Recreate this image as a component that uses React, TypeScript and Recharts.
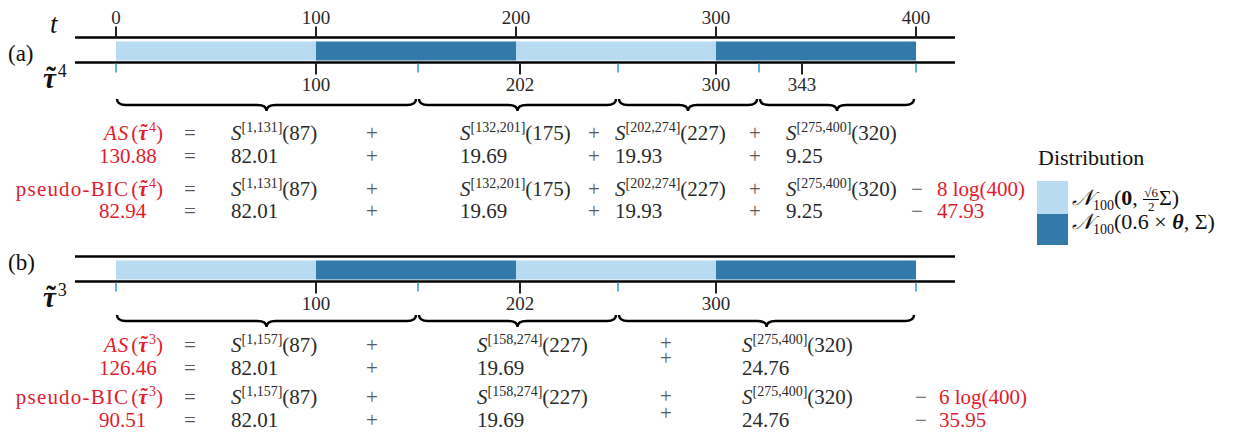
import React from "react";
import { Bar, BarChart, ReferenceArea, XAxis, YAxis } from "recharts";

// true segments of the simulated series (length of each piece and its distribution)
const truthLengths = [100, 100, 100, 100];
const truthDist = [0, 1, 0, 1];
const topTicks = [0, 100, 200, 300, 400];

// panel (a): 4 estimated change points
const cpsA = [100, 202, 300, 343];
const rangesA = [[1, 131], [132, 201], [202, 274], [275, 400]];
const centresA = [87, 175, 227, 320];
const costsA = ["82.01", "19.69", "19.93", "9.25"];
const asA = "130.88";
const bicA = "82.94";
const penA = 8;
const penValA = "47.93";

// panel (b): 3 estimated change points
const cpsB = [100, 202, 300];
const rangesB = [[1, 157], [158, 274], [275, 400]];
const centresB = [87, 227, 320];
const costsB = ["82.01", "19.69", "24.76"];
const asB = "126.46";
const bicB = "90.51";
const penB = 6;
const penValB = "35.95";

const DIST_COLORS = ["#b8dbf2", "#3379aa"];
const RED = "#e41b2c";
const INK = "#2a2a2a";
const OP = "#5a5a5a";
const TICK_BLUE = "#3aa0dc";
const FONT = "'Liberation Serif', serif";
const DOMAIN: [number, number] = [-20.5, 419.5];

const truthRow = [
  truthLengths.reduce<Record<string, any>>(
    (acc, v, i) => ({ ...acc, ["s" + i]: v }),
    { name: "t" }
  ),
];

function midpoints(cps: number[]) {
  const out = [0];
  for (let i = 0; i < cps.length - 1; i++) out.push((cps[i] + cps[i + 1]) / 2);
  out.push(400);
  return out;
}

function Brace(props: any) {
  const { x, y, width, height, drop } = props;
  const x1 = x + 1;
  const x2 = x + width - 2;
  const m = (x1 + x2) / 2;
  const y0 = y + height + drop;
  const h = 12;
  const q = 9;
  const d = `M${x1},${y0} Q${x1},${y0 + h / 2} ${x1 + q},${y0 + h / 2} L${m - q},${y0 + h / 2} Q${m},${y0 + h / 2} ${m},${y0 + h} Q${m},${y0 + h / 2} ${m + q},${y0 + h / 2} L${x2 - q},${y0 + h / 2} Q${x2},${y0 + h / 2} ${x2},${y0}`;
  return <path d={d} fill="none" stroke="#000" strokeWidth={2.4} />;
}

function Panel({ top, cps, showTop, drop }: { top: number; cps: number[]; showTop: boolean; drop: number }) {
  const mids = midpoints(cps);
  const ticks = [...mids, ...cps].sort((a, b) => a - b);
  const CpTick = (p: any) => {
    const v = p.payload.value;
    if (cps.includes(v)) {
      return (
        <g>
          <line x1={p.x} x2={p.x} y1={p.y} y2={p.y + 12} stroke="#222" strokeWidth={2} />
          <text x={p.x} y={p.y + 28} textAnchor="middle" fontSize={19} fill={INK} fontFamily={FONT}>
            {v}
          </text>
        </g>
      );
    }
    return <line x1={p.x} x2={p.x} y1={p.y + 1} y2={p.y + 10} stroke={TICK_BLUE} strokeWidth={1.6} />;
  };
  return (
    <div style={{ position: "absolute", left: 0, top }}>
      <BarChart
        width={1247}
        height={120}
        layout="vertical"
        data={truthRow}
        margin={{ top: 0, right: 292, left: 75, bottom: 0 }}
        barCategoryGap={0}
      >
        <XAxis
          xAxisId="top"
          orientation="top"
          type="number"
          domain={DOMAIN}
          ticks={showTop ? topTicks : []}
          interval={0}
          height={37.5}
          tickSize={11}
          tickMargin={3}
          tick={showTop ? { fontSize: 19, fill: INK, fontFamily: FONT } : false}
          tickLine={showTop ? { stroke: "#222", strokeWidth: 2 } : false}
          axisLine={{ stroke: "#000", strokeWidth: 2.4 }}
          allowDataOverflow
        />
        <XAxis
          xAxisId="bottom"
          orientation="bottom"
          type="number"
          domain={DOMAIN}
          ticks={ticks}
          interval={0}
          height={57.5}
          tickSize={0}
          tickMargin={0}
          tickLine={false}
          tick={<CpTick />}
          axisLine={{ stroke: "#000", strokeWidth: 2.4 }}
          allowDataOverflow
        />
        <YAxis type="category" dataKey="name" hide padding={{ top: 4, bottom: 1.5 }} />
        {truthLengths.map((_, i) => (
          <Bar
            key={i}
            xAxisId="top"
            dataKey={"s" + i}
            stackId="truth"
            barSize={19}
            fill={DIST_COLORS[truthDist[i]]}
            isAnimationActive={false}
          />
        ))}
        {mids.slice(0, -1).map((m, i) => (
          <ReferenceArea
            key={"b" + i}
            xAxisId="bottom"
            x1={m}
            x2={mids[i + 1]}
            ifOverflow="visible"
            shape={(p: any) => <Brace {...p} drop={drop} />}
          />
        ))}
      </BarChart>
    </div>
  );
}

// bold italic tau with a tilde placed over it, a superscript, then optional trailing text
function TauTilde({ f, k, sup, after }: { f: number; k: number; sup: number; after?: string }) {
  const rise = Math.round(f * 0.38);
  return (
    <>
      <tspan fontStyle="italic" fontWeight="bold">{"\u03c4"}</tspan>
      <tspan fontWeight="bold" dx={-0.33 * f} dy={-0.04 * f}>{"\u02dc"}</tspan>
      <tspan fontSize={sup} dx={0.06 * f} dy={-rise + 0.04 * f}>{k}</tspan>
      {after ? <tspan dy={rise}>{after}</tspan> : null}
    </>
  );
}

function STerm({ x, y, range, c }: { x: number; y: number; range: number[]; c: number }) {
  return (
    <text x={x} y={y} fill={INK} fontSize={21}>
      <tspan fontStyle="italic">S</tspan>
      <tspan dy={-8} fontSize={14}>[{range[0]},{range[1]}]</tspan>
      <tspan dy={8}>({c})</tspan>
    </text>
  );
}

function Op({ x, y, s }: { x: number; y: number; s: string }) {
  return (
    <text x={x} y={y} textAnchor="middle" fill={OP} fontSize={21}>
      {s}
    </text>
  );
}

type Layout = {
  k: number;
  ys: number[];
  sx: number[];
  px: number[];
  pRaise: number[][];
  mx: number;
  penX: number;
};

function Block({ L, ranges, centres, costs, as, bic, pen, penVal }: any) {
  const { k, ys, sx, px, pRaise, mx, penX } = L as Layout;
  return (
    <g fontFamily={FONT}>
      <text x={163} y={ys[0]} textAnchor="end" fill={RED} fontSize={21}>
        <tspan fontStyle="italic" letterSpacing={1}>AS</tspan>
        <tspan dx={2}>(</tspan>
        <TauTilde f={21} k={k} sup={14} after=")" />
      </text>
      <text x={99} y={ys[1]} fill={RED} fontSize={21}>{as}</text>
      <text x={163} y={ys[2]} textAnchor="end" fill={RED} fontSize={21}>
        <tspan letterSpacing={1.2}>pseudo-BIC</tspan>
        <tspan dx={2}>(</tspan>
        <TauTilde f={21} k={k} sup={14} after=")" />
      </text>
      <text x={99} y={ys[3]} fill={RED} fontSize={21}>{bic}</text>
      {ys.map((y, r) => (
        <g key={r}>
          <Op x={190} y={y} s="=" />
          {sx.map((x, i) =>
            r % 2 === 0 ? (
              <STerm key={i} x={x} y={y} range={ranges[i]} c={centres[i]} />
            ) : (
              <text key={i} x={x} y={y} fill={INK} fontSize={21}>{costs[i]}</text>
            )
          )}
          {px.map((x, i) => (
            <Op key={"p" + i} x={x} y={y - (pRaise[i] ? pRaise[i][r] : 0)} s="+" />
          ))}
        </g>
      ))}
      <Op x={mx} y={ys[2]} s={"\u2212"} />
      <text x={penX} y={ys[2]} fill={RED} fontSize={21}>{pen} log(400)</text>
      <Op x={mx} y={ys[3]} s={"\u2212"} />
      <text x={penX} y={ys[3]} fill={RED} fontSize={21}>{penVal}</text>
    </g>
  );
}

const layoutA: Layout = {
  k: 4,
  ys: [140, 163, 196, 218],
  sx: [231, 460, 615, 786],
  px: [372, 594, 755],
  pRaise: [],
  mx: 917,
  penX: 937,
};

const layoutB: Layout = {
  k: 3,
  ys: [352, 375, 404, 427],
  sx: [231, 477, 742],
  px: [372, 666],
  pRaise: [[0, 0, 0, 0], [2, 10, 1, 7]],
  mx: 921,
  penX: 939,
};

function Legend() {
  const labels = [
    <>
      <span style={{ fontStyle: "italic" }}>{"\ud835\udca9"}</span>
      <sub style={{ fontSize: 14 }}>100</sub>(<b>0</b>,{" "}
      <span style={{ display: "inline-flex", flexDirection: "column", alignItems: "center", fontSize: 13, lineHeight: "13px", verticalAlign: "middle" }}>
        <span style={{ borderBottom: "1px solid #000", padding: "0 1px" }}>{"\u221a6"}</span>
        <span>2</span>
      </span>
      {"\u03a3)"}
    </>,
    <>
      <span style={{ fontStyle: "italic" }}>{"\ud835\udca9"}</span>
      <sub style={{ fontSize: 14 }}>100</sub>(0.6 {"\u00d7"} <b><i>{"\u03b8"}</i></b>, {"\u03a3)"}
    </>,
  ];
  return (
    <div style={{ position: "absolute", left: 1037, top: 145, fontFamily: FONT, color: "#111" }}>
      <div style={{ fontSize: 22, marginBottom: 10, marginLeft: 1 }}>Distribution</div>
      {DIST_COLORS.map((c, i) => (
        <div key={c} style={{ display: "flex", alignItems: "flex-end", height: i === 0 ? 33 : 31 }}>
          <div style={{ width: 31, height: "100%", background: c }} />
          <div style={{ fontSize: 22, marginLeft: 4, lineHeight: "22px", whiteSpace: "nowrap", marginBottom: i === 0 ? -3 : 4 }}>
            {labels[i]}
          </div>
        </div>
      ))}
    </div>
  );
}

export default function App() {
  return (
    <div style={{ position: "absolute", left: 0, top: 0, width: 1247, height: 438, background: "#fff", overflow: "hidden" }}>
      <Panel top={0} cps={cpsA} showTop drop={38} />
      <Panel top={219} cps={cpsB} showTop={false} drop={35} />
      <svg width={1247} height={438} style={{ position: "absolute", left: 0, top: 0, pointerEvents: "none" }}>
        <g fontFamily={FONT} fill="#111">
          <text x={50} y={33} fontSize={27} fontStyle="italic">t</text>
          <text x={8} y={61} fontSize={23}>(a)</text>
          <text x={8} y={270} fontSize={23}>(b)</text>
          <text x={43} y={88} fontSize={29}>
            <TauTilde f={29} k={4} sup={18} />
          </text>
          <text x={43} y={307} fontSize={29}>
            <TauTilde f={29} k={3} sup={18} />
          </text>
        </g>
        <Block L={layoutA} ranges={rangesA} centres={centresA} costs={costsA} as={asA} bic={bicA} pen={penA} penVal={penValA} />
        <Block L={layoutB} ranges={rangesB} centres={centresB} costs={costsB} as={asB} bic={bicB} pen={penB} penVal={penValB} />
      </svg>
      <Legend />
    </div>
  );
}
